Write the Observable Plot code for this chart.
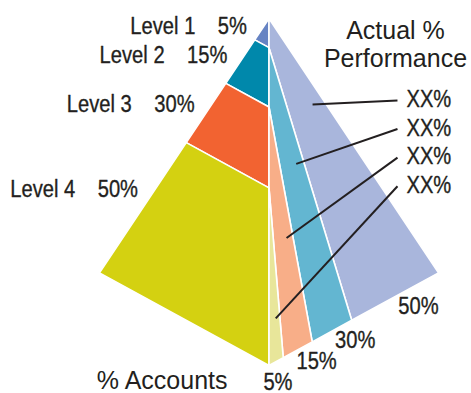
<!DOCTYPE html>
<html><head><meta charset="utf-8">
<script src="https://cdn.jsdelivr.net/npm/d3@7"></script>
<script src="https://cdn.jsdelivr.net/npm/@observablehq/plot@0.6"></script>
<style>body{margin:0;background:#fff}</style>
</head><body><div id="chart"></div>
<script>
// ---- data ----
const levels = ["Level 1", "Level 2", "Level 3", "Level 4"];
const accountShare = [5, 15, 30, 50];        // % Accounts (left face)
const performanceShare = [50, 30, 15, 5];    // Actual % Performance (right face)
const calloutLabels = ["XX%", "XX%", "XX%", "XX%"];
const faceTitle = ["Actual %", "Performance"];
const baseTitle = "% Accounts";

// ---- styles ----
const accountColors = ["#6683c3", "#0088ab", "#f26331", "#d4d111"];
const performanceColors = ["#a9b6dc", "#63b6d1", "#f8ae88", "#e8e69a"];
const ink = "#231f20";

// ---- schematic geometry (unit pyramid: apex (0,0), bottom (0,1), corners (±1,K)) ----
const K = 0.733;
const total = d3.sum(accountShare);
const cumA = [0, ...d3.cumsum(accountShare)];
const cumP = [0, ...d3.cumsum(performanceShare)];
const depth = d3.scaleLinear().domain(cumA).range([0, 0.084, 0.255, 0.488, 1]); // schematic spacing
const C = k => [0, depth(cumA[k])];
const E = k => { const e = depth(total - cumP[k]); return [e, 1 - (1 - K) * e]; };
const Lp = t => [-t, K * t];

const polys = [];
const ids = [], colors = [];
levels.forEach((lv, i) => {
  const d0 = depth(cumA[i]), d1 = depth(cumA[i + 1]);
  const id = "A" + i;
  ids.push(id); colors.push(accountColors[i]);
  [[0, d0], Lp(d0), Lp(d1), [0, d1]].forEach(([x, y]) => polys.push({id, x, y}));
});
levels.forEach((lv, i) => {
  const id = "P" + i;
  ids.push(id); colors.push(performanceColors[i]);
  [C(i), E(i), E(i + 1), C(i + 1)].forEach(([x, y]) => polys.push({id, x, y}));
});

const leftLabels = levels.map((lv, i) => {
  const d0 = depth(cumA[i]), d1 = depth(cumA[i + 1]);
  const t = d0 + 0.36 * (d1 - d0);
  return {label: `${lv}\u00a0\u00a0\u00a0\u00a0${accountShare[i]}%`, x: -t, y: K * t};
});

// labels under the base edge: strip middle, nudged outward, then dodged so they don't collide
const baseSpots = performanceShare.map((p, i) =>
  (depth(total - cumP[i]) + depth(total - cumP[i + 1])) / 2 + 0.0725);
for (let i = 1; i < baseSpots.length; ++i)
  baseSpots[i] = Math.min(baseSpots[i], baseSpots[i - 1] - 0.228);
const bottomLabels = performanceShare.map((p, i) => {
  const e = baseSpots[i];
  return {label: `${p}%`, x: e, y: 1 - (1 - K) * e};
});

const lerp = (a, b, u) => [a[0] + u * (b[0] - a[0]), a[1] + u * (b[1] - a[1])];
const xEnd = 0.758;
const callouts = calloutLabels.map((lab, i) => {
  const u = 0.3 + 0.06 * i + 0.02 * i * i;
  const outer = lerp(C(i), E(i), u), inner = lerp(C(i + 1), E(i + 1), u);
  const p = lerp(inner, outer, 0.72);
  return {label: lab, x1: p[0], y1: p[1], x2: xEnd, y2: 0.236 + 0.0825 * i};
});

const condensed = {fontFamily: "Liberation Sans", fontSize: 24, fill: ink, stroke: ink, strokeWidth: 0.35};

const svg = Plot.plot({
  width: 471, height: 393,
  marginLeft: 99, marginRight: 33, marginTop: 18, marginBottom: 28,
  x: {domain: [-1, 1], axis: null},
  y: {domain: [0, 1], reverse: true, axis: null},
  color: {domain: ids, range: colors},
  style: {background: "#fff"},
  marks: [
    Plot.line(polys, {x: "x", y: "y", z: "id", fill: "id", stroke: "white", strokeWidth: 1.6,
      strokeLinejoin: "round", curve: "linear-closed"}),
    Plot.link(callouts, {x1: "x1", y1: "y1", x2: "x2", y2: "y2", stroke: ink, strokeWidth: 2}),
    Plot.text(leftLabels, {x: "x", y: "y", text: "label", textAnchor: "end", dx: -17, ...condensed}),
    Plot.text(bottomLabels, {x: "x", y: "y", text: "label", textAnchor: "middle", dx: 11, dy: 16, ...condensed}),
    Plot.text(callouts, {x: "x2", y: "y2", text: "label", textAnchor: "start", dx: 9, dy: -1, ...condensed}),
    Plot.text([faceTitle.join("\n")], {frameAnchor: "top-right", textAnchor: "middle", lineAnchor: "top",
      dx: -43, dy: 0, lineHeight: 1.13, fontFamily: "Liberation Sans", fontSize: 25, fill: ink}),
    Plot.text([baseTitle], {frameAnchor: "bottom", textAnchor: "end", lineAnchor: "middle", dx: -41.5, dy: 15.5,
      fontFamily: "Liberation Sans", fontSize: 25, fill: ink})
  ]
});

// condensed type for the level/percent labels
const textGroups = svg.querySelectorAll('g[aria-label="text"]');
[0, 1, 2].forEach(gi => {
  const g = textGroups[gi];
  if (!g) return;
  g.querySelectorAll("text").forEach(el => {
    const tr = el.getAttribute("transform");
    if (tr) el.setAttribute("transform", tr + " scale(0.84,1)");
    else {
      const x = +el.getAttribute("x") || 0, y = +el.getAttribute("y") || 0;
      el.setAttribute("transform", `translate(${x},${y}) scale(0.84,1) translate(${-x},${-y})`);
    }
  });
});

document.getElementById("chart").appendChild(svg);
</script>
</body></html>
